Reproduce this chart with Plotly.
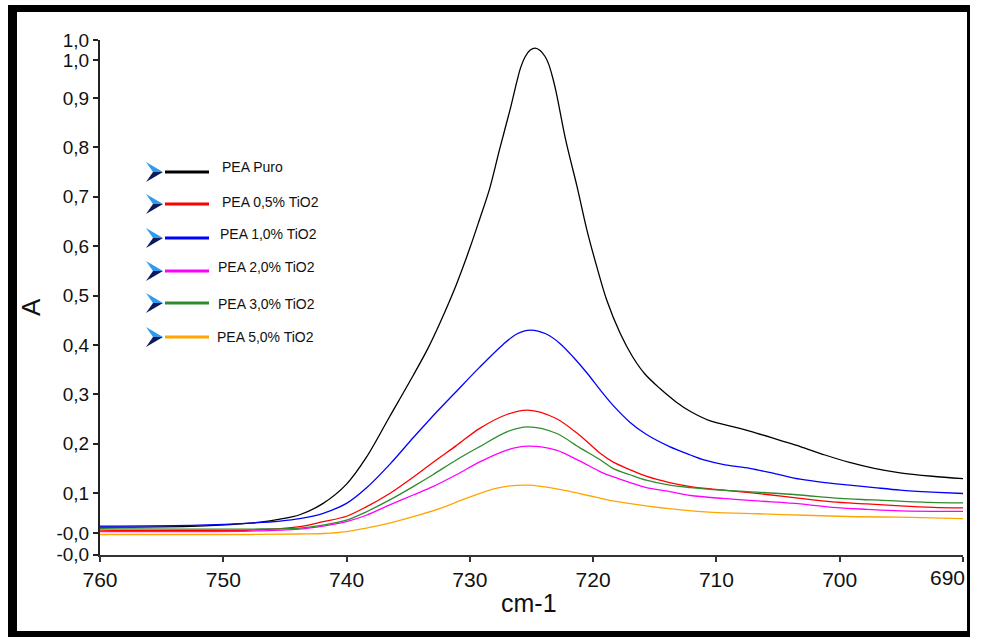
import plotly.graph_objects as go

# ---------------- data ----------------
x_puro = [760, 752.0, 747.0, 745.4, 743.8, 741.9, 740.0, 738.4, 736.5, 734.6, 733.4, 732.4, 731.1, 730.0,
          729.2, 728.4, 727.6, 726.7, 726.2, 725.9, 725.5, 725.1, 724.7, 724.3, 723.9, 723.6, 723.3,
          723.0, 722.2, 721.3, 720.5, 719.7, 718.9, 717.8, 716.8, 715.8, 714.6, 713.3, 712.1, 710.5,
          708.6, 706.7, 704.9, 703.2, 701.2, 699.2, 697.2, 695.1, 692.5, 690.0]
y_puro = [0.031, 0.033, 0.041, 0.047, 0.056, 0.079, 0.118, 0.172, 0.255, 0.338, 0.393, 0.446, 0.522, 0.596,
          0.655, 0.716, 0.795, 0.880, 0.932, 0.960, 0.984, 0.997, 1.001, 0.996, 0.984, 0.968, 0.943,
          0.912, 0.812, 0.720, 0.632, 0.558, 0.491, 0.423, 0.376, 0.341, 0.312, 0.285, 0.265, 0.246,
          0.234, 0.221, 0.207, 0.194, 0.177, 0.162, 0.150, 0.141, 0.134, 0.129]

x_05 = [760, 747.8, 743.8, 741.9, 740.0, 738.4, 736.5, 734.6, 733.0, 731.1, 729.2, 727.0, 725.3, 723.0,
        721.1, 719.4, 718.4, 717.0, 715.7, 713.8, 712.1, 710.3, 708.6, 705.9, 703.2, 700.6, 697.8,
        695.1, 692.4, 690.0]
y_05 = [0.025, 0.025, 0.032, 0.042, 0.053, 0.072, 0.099, 0.132, 0.162, 0.196, 0.231, 0.259, 0.268,
        0.251, 0.217, 0.180, 0.163, 0.147, 0.134, 0.121, 0.113, 0.108, 0.104, 0.097, 0.089, 0.082,
        0.078, 0.074, 0.071, 0.070]

x_10 = [760, 752.0, 747.8, 745.4, 743.8, 741.9, 740.0, 738.4, 736.5, 734.6, 733.4, 732.7, 731.2, 729.2,
        727.3, 726.2, 725.1, 723.8, 722.7, 721.6, 720.5, 719.4, 718.4, 717.0, 715.7, 713.8, 712.1,
        711.0, 709.3, 707.3, 705.2, 703.2, 701.2, 699.2, 697.2, 695.1, 692.5, 690.0]
y_10 = [0.033, 0.035, 0.039, 0.043, 0.048, 0.059, 0.079, 0.110, 0.158, 0.212, 0.245, 0.264, 0.303, 0.355,
        0.401, 0.422, 0.430, 0.422, 0.403, 0.375, 0.343, 0.308, 0.278, 0.243, 0.219, 0.194, 0.177,
        0.167, 0.157, 0.150, 0.139, 0.128, 0.121, 0.116, 0.111, 0.106, 0.102, 0.099]

x_20 = [760, 747.8, 743.8, 741.9, 740.0, 738.4, 736.5, 734.6, 733.0, 731.1, 729.2, 727.0, 725.3, 723.0,
        721.1, 719.4, 718.4, 717.0, 715.7, 713.8, 712.1, 709.5, 706.7, 703.2, 700.6, 697.8, 695.1,
        690.0]
y_20 = [0.022, 0.023, 0.027, 0.033, 0.042, 0.055, 0.076, 0.096, 0.113, 0.137, 0.163, 0.187, 0.195,
        0.187, 0.165, 0.143, 0.133, 0.121, 0.111, 0.103, 0.095, 0.089, 0.084, 0.078, 0.071, 0.067,
        0.064, 0.063]

x_30 = [760, 747.8, 743.8, 741.9, 740.0, 738.4, 736.5, 734.6, 733.0, 731.1, 729.2, 727.0, 725.3, 723.0,
        721.1, 719.4, 718.4, 717.0, 715.7, 713.8, 712.1, 710.3, 707.6, 704.9, 703.2, 700.0, 697.3,
        692.7, 690.0]
y_30 = [0.028, 0.027, 0.029, 0.035, 0.045, 0.062, 0.086, 0.113, 0.137, 0.167, 0.194, 0.224, 0.234,
        0.221, 0.192, 0.167, 0.150, 0.137, 0.126, 0.116, 0.111, 0.107, 0.103, 0.099, 0.096, 0.089,
        0.086, 0.081, 0.080]

x_50 = [760, 747.8, 743.8, 741.9, 740.0, 738.4, 736.5, 734.6, 732.4, 730.3, 727.8, 725.3, 722.4, 721.1,
        719.7, 718.4, 715.7, 712.9, 710.3, 706.7, 702.8, 698.6, 695.1, 690.0]
y_50 = [0.016, 0.016, 0.017, 0.018, 0.022, 0.029, 0.039, 0.052, 0.069, 0.089, 0.110, 0.116, 0.106,
        0.099, 0.091, 0.084, 0.074, 0.066, 0.061, 0.058, 0.055, 0.052, 0.051, 0.048]

series_names = ["PEA Puro", "PEA 0,5% TiO2", "PEA 1,0% TiO2", "PEA 2,0% TiO2", "PEA 3,0% TiO2", "PEA 5,0% TiO2"]
series_colors = ["#000000", "#ff0000", "#0000ff", "#ff00ff", "#2e8b2e", "#ffa500"]
series_x = [x_puro, x_05, x_10, x_20, x_30, x_50]
series_y = [y_puro, y_05, y_10, y_20, y_30, y_50]

x_ticks = [760, 750, 740, 730, 720, 710, 700, 690]
x_ticktext = ["760", "750", "740", "730", "720", "710", "700", "690"]
y_tickvals = [1.017, 0.976, 0.9, 0.8, 0.7, 0.6, 0.5, 0.4, 0.3, 0.2, 0.1, 0.019, -0.025]
y_ticktext = ["1,0", "1,0", "0,9", "0,8", "0,7", "0,6", "0,5", "0,4", "0,3", "0,2", "0,1", "-0,0", "-0,0"]

# ---------------- layout helpers ----------------
W, H = 970, 637
L, R, T, B = 100, 7, 40, 82
PW, PH = W - L - R, H - T - B


def px(x):
    return (x - L) / PW


def py(y):
    return (H - B - y) / PH


NARROW = "Liberation Sans Narrow, Arial Narrow, Liberation Sans, Arial, sans-serif"
REG = "Liberation Sans, Arial, sans-serif"

fig = go.Figure()
for name, col, xs, ys in zip(series_names, series_colors, series_x, series_y):
    fig.add_trace(go.Scatter(x=xs, y=ys, mode="lines", name=name, showlegend=False,
                             line=dict(color=col, width=1.3, shape="spline", smoothing=0.9)))

shapes = []
# black frame
for (x0, y0, x1, y1) in [(8, 5, 982, 12), (8, 5, 17, 637), (967, 5, 970, 637), (8, 631, 982, 637)]:
    shapes.append(dict(type="rect", xref="paper", yref="paper", x0=px(x0), x1=px(x1),
                       y0=py(y1), y1=py(y0), fillcolor="black", line=dict(width=0), layer="above"))

annotations = []
line_rows = [172, 204, 238, 271, 303, 337]
text_rows = [167, 202, 234, 267, 304, 337]
text_x = [220, 220, 218, 216, 216, 215]
for name, col, ly, ty, tx in zip(series_names, series_colors, line_rows, text_rows, text_x):
    up = f"M {px(146)},{py(ly-10)} L {px(163)},{py(ly)} L {px(153)},{py(ly)} Z"
    lo = f"M {px(153)},{py(ly)} L {px(163)},{py(ly)} L {px(146)},{py(ly+10)} Z"
    shapes.append(dict(type="path", xref="paper", yref="paper", path=up,
                       fillcolor="#2f9bf0", line=dict(width=0)))
    shapes.append(dict(type="path", xref="paper", yref="paper", path=lo,
                       fillcolor="#0d1a5e", line=dict(width=0)))
    shapes.append(dict(type="line", xref="paper", yref="paper", x0=px(165), x1=px(209),
                       y0=py(ly), y1=py(ly), line=dict(color=col, width=3)))
    annotations.append(dict(xref="paper", yref="paper", x=px(tx), y=py(ty), text=name,
                            showarrow=False, xanchor="left", yanchor="middle",
                            font=dict(family=REG, size=14, color="#111")))

# last x tick label, right-aligned so it stays inside the page
annotations.append(dict(xref="paper", yref="paper", x=px(967), y=py(577), text=x_ticktext[-1],
                        showarrow=False, xanchor="right", yanchor="middle",
                        font=dict(family=NARROW, size=21, color="#111")))
annotations.append(dict(xref="paper", yref="paper", x=px(529), y=py(603), text="cm-1",
                        showarrow=False, xanchor="center", yanchor="middle",
                        font=dict(family=NARROW, size=25, color="#111")))
annotations.append(dict(xref="paper", yref="paper", x=px(31), y=py(307), text="A",
                        showarrow=False, xanchor="center", yanchor="middle", textangle=-90,
                        font=dict(family=REG, size=26, color="#111")))

fig.update_layout(
    width=W, height=H, autosize=False,
    margin=dict(l=L, r=R, t=T, b=B),
    paper_bgcolor="white", plot_bgcolor="white",
    showlegend=False,
    shapes=shapes, annotations=annotations,
    xaxis=dict(range=[760, 690], tickvals=x_ticks, ticktext=x_ticktext[:-1] + [""],
               showgrid=False, zeroline=False, showline=True, linecolor="#333", linewidth=2,
               ticks="outside", ticklen=5, tickwidth=1.5, tickcolor="#333",
               tickfont=dict(family=NARROW, size=21, color="#111")),
    yaxis=dict(range=[-0.0255, 1.0174], tickvals=y_tickvals, ticktext=y_ticktext,
               showgrid=False, zeroline=False, showline=True, linecolor="#222", linewidth=2,
               ticks="outside", ticklen=5, tickwidth=1.5, tickcolor="#222",
               tickfont=dict(family=NARROW, size=19, color="#111")),
)

post = "document.body.style.margin='0';document.body.style.overflow='hidden';"
fig.write_html("out.html", config={"displayModeBar": False, "responsive": False}, post_script=post)
